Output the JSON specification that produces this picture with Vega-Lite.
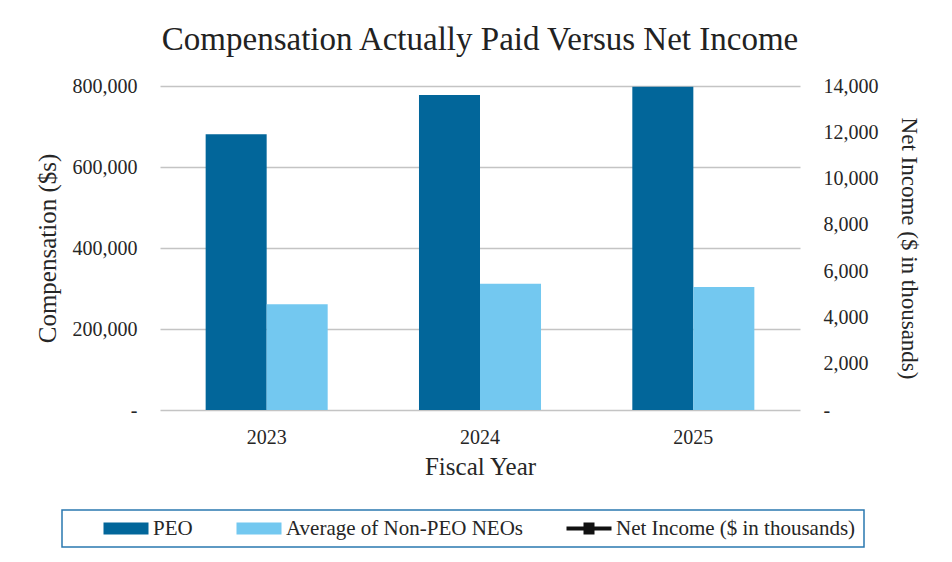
{
  "$schema": "https://vega.github.io/schema/vega-lite/v6.json",
  "autosize": {"type": "none"},
  "width": 640,
  "height": 324,
  "padding": {"left": 160, "top": 86, "right": 152, "bottom": 152},
  "background": "white",
  "title": {
    "text": "Compensation Actually Paid Versus Net Income",
    "font": "Liberation Serif",
    "fontSize": 33,
    "fontWeight": "normal",
    "color": "#222222",
    "offset": 19,
    "anchor": "middle"
  },
  "data": {
    "values": [
      {"Year": "2023", "Series": "PEO", "Comp": 681000, "NetIncome": null},
      {"Year": "2023", "Series": "Average of Non-PEO NEOs", "Comp": 261000, "NetIncome": null},
      {"Year": "2024", "Series": "PEO", "Comp": 778000, "NetIncome": null},
      {"Year": "2024", "Series": "Average of Non-PEO NEOs", "Comp": 312000, "NetIncome": null},
      {"Year": "2025", "Series": "PEO", "Comp": 798000, "NetIncome": null},
      {"Year": "2025", "Series": "Average of Non-PEO NEOs", "Comp": 304000, "NetIncome": null}
    ]
  },
  "encoding": {
    "x": {
      "field": "Year",
      "type": "nominal",
      "scale": {"paddingInner": 0.428, "paddingOuter": 0.214},
      "axis": {
        "title": "Fiscal Year",
        "labelAngle": 0,
        "ticks": false,
        "domain": false,
        "labelPadding": 17,
        "titlePadding": 7,
        "labelFontSize": 20,
        "titleFontSize": 25
      }
    }
  },
  "layer": [
    {
      "mark": {"type": "bar"},
      "encoding": {
        "xOffset": {"field": "Series", "type": "nominal", "sort": ["PEO", "Average of Non-PEO NEOs"], "scale": {"paddingInner": 0, "paddingOuter": 0}},
        "y": {
          "field": "Comp",
          "type": "quantitative",
          "scale": {"domain": [0, 800000]},
          "axis": {
            "title": "Compensation ($s)",
            "orient": "left",
            "values": [0, 200000, 400000, 600000, 800000],
            "labelExpr": "datum.value === 0 ? '-' : format(datum.value, ',')",
            "grid": true,
            "gridColor": "#C4C4C4",
            "gridWidth": 1.5,
            "ticks": false,
            "domain": false,
            "labelPadding": 23,
            "titlePadding": 12,
            "labelFontSize": 20,
            "titleFontSize": 25
          }
        },
        "color": {
          "field": "Series",
          "type": "nominal",
          "scale": {
            "domain": ["PEO", "Average of Non-PEO NEOs", "Net Income ($ in thousands)"],
            "range": ["#02669A", "#73C8F0", "#111111"]
          },
          "legend": {
            "title": null,
            "orient": "none",
            "legendX": -98,
            "legendY": 424,
            "direction": "horizontal",
            "gridAlign": "none",
            "strokeColor": "#2A78B0",
            "padding": 8,
            "symbolOffset": 45.5,
            "columnPadding": 10,
            "labelOffset": 16.5,
            "labelFontSize": 21,
            "labelLimit": 500,
            "symbolSize": 400,
            "symbolStrokeWidth": 0,
            "symbolOpacity": 1,
            "labelExpr": "indexof(datum.label, 'Net Income') >= 0 ? datum.label + '\u2003\u2002' : datum.label",
            "encode": {
              "legend": {"update": {"strokeWidth": {"value": 1.5}}},
              "symbols": {
                "update": {
                  "shape": {"signal": "datum.value === 'Net Income ($ in thousands)' ? 'M-2.25,-0.2H-0.55V-0.6H0.55V-0.2H2.25V0.2H0.55V0.6H-0.55V0.2H-2.25Z' : 'M-2.25,-0.6H2.25V0.6H-2.25Z'"}
                }
              }
            }
          }
        }
      }
    },
    {
      "mark": {"type": "line", "color": "#111111", "strokeWidth": 3, "point": {"shape": "square", "filled": true, "color": "#111111"}},
      "encoding": {
        "y": {
          "field": "NetIncome",
          "type": "quantitative",
          "scale": {"domain": [0, 14000]},
          "axis": {
            "title": "Net Income ($ in thousands)",
            "orient": "right",
            "values": [0, 2000, 4000, 6000, 8000, 10000, 12000, 14000],
            "labelExpr": "datum.value === 0 ? '-' : format(datum.value, ',')",
            "grid": false,
            "ticks": false,
            "domain": false,
            "labelPadding": 23,
            "titlePadding": 18,
            "labelFontSize": 20,
            "titleFontSize": 23
          }
        }
      }
    }
  ],
  "resolve": {"scale": {"y": "independent"}},
  "config": {
    "font": "Liberation Serif",
    "view": {"stroke": null},
    "axis": {
      "labelFont": "Liberation Serif",
      "titleFont": "Liberation Serif",
      "labelColor": "#262626",
      "titleColor": "#262626",
      "titleFontWeight": "normal"
    },
    "legend": {
      "labelFont": "Liberation Serif",
      "labelColor": "#262626"
    }
  }
}
